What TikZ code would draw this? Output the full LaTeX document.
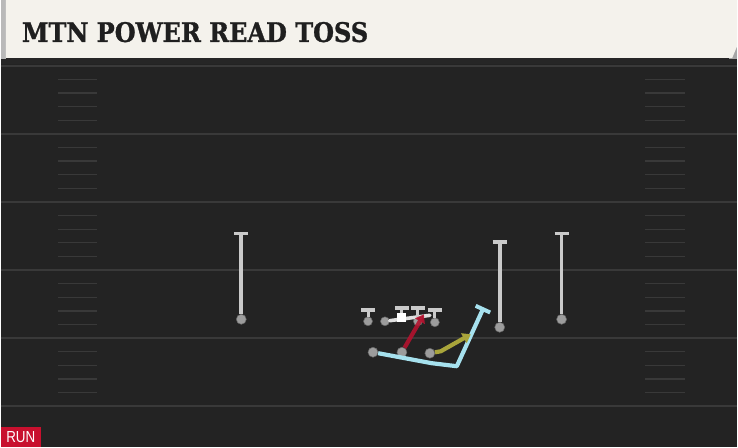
\documentclass[tikz,border=0pt]{standalone}
\usepackage{fontspec}
\usetikzlibrary{arrows.meta}
\newfontfamily\titlefont[FakeBold=1.2]{DejaVu Serif}
\newfontfamily\tagfont{Liberation Sans}
\definecolor{turf}{HTML}{232323}
\definecolor{chalk}{HTML}{393939}
\definecolor{paper}{HTML}{F4F2EC}
\definecolor{pgray}{HTML}{CACACA}
\definecolor{dgray}{HTML}{9C9C9C}
\definecolor{runred}{HTML}{B3132F}
\definecolor{ylw}{HTML}{A9A53B}
\definecolor{sky}{HTML}{A6E1EE}
\definecolor{tagred}{HTML}{C8102E}
\begin{document}
\begin{tikzpicture}[x=1pt,y=-1pt,
    yard/.style={draw=chalk,line width=1.6pt},
    hash/.style={draw=chalk,line width=1.3pt},
    player/.style={circle,fill=dgray,draw=black!60,line width=0.5pt,inner sep=0pt,minimum size=10pt},
    lineman/.style={player,minimum size=9pt},
    block/.style={pgray,line width=3.6pt,-{Bar[width=14pt,line width=4pt]}},
    pull/.style={white!88!black,line width=3.6pt,line cap=round},
    route/.style={line width=4.2pt,line join=round,-{Triangle[length=8pt,width=11pt]}}]
  \fill[turf] (0,0) rectangle (738,448);
  \foreach \k in {0,...,5}
    \draw[yard] (0,66+68.2*\k) -- (738,66+68.2*\k);
  \foreach \k in {0,...,4}
    \foreach \j in {1,...,4} {
      \draw[hash] (57,66+68.2*\k+13.64*\j) -- (96,66+68.2*\k+13.64*\j);
      \draw[hash] (646,66+68.2*\k+13.64*\j) -- (686,66+68.2*\k+13.64*\j);
    }
  \fill[black!85] (0,58) rectangle (738,64);
  \fill[gray!55] (0,0) rectangle (5,59);
  \fill[gray!70] (730,40) -- (738,40) -- (738,59) -- (730,59) -- cycle;
  \fill[paper] (5,0) -- (738,0) -- (738,46) -- (733,58) -- (5,58) -- cycle;
  \node[anchor=base west,inner sep=0pt,text=black!88] (title) at (21,42)
    {\resizebox{347pt}{20pt}{\titlefont\bfseries MTN POWER READ TOSS}};
  \node[fill=tagred,text=white,inner sep=0pt,minimum width=40pt,minimum height=20pt] (tag) at (20,438)
    {\resizebox{29pt}{11pt}{\tagfont RUN}};

  \node[player] (wl) at (241,320) {};
  \node[player] (wr) at (500,328) {};
  \node[player] (wo) at (562,320) {};
  \coordinate (wlt) at (241,232);
  \coordinate (wrt) at (500,241);
  \coordinate (wot) at (562,232);
  \draw[block] (wl) -- (wlt);
  \draw[block] (wr) -- (wrt);
  \draw[block] (wo) -- (wot);

  \node[lineman] (lt) at (368,322) {};
  \node[lineman] (lg) at (385,322) {};
  \node[lineman] (rg) at (418,322) {};
  \node[lineman] (rt) at (435,323) {};
  \coordinate (ltt) at (368,309);
  \coordinate (lge) at (430,316);
  \coordinate (ct) at (402,307);
  \coordinate (rgt) at (418,307);
  \coordinate (rtt) at (435,309);
  \draw[block,line width=3pt] (lt) -- (ltt);
  \draw[pull] (lg) -- (lge);
  \node[fill=white,inner sep=0pt,minimum size=9pt] (ctr) at (402,318) {};
  \draw[block,line width=3pt] (ctr) -- (ct);
  \draw[block,line width=3pt] (rg) -- (rgt);
  \draw[block,line width=3pt] (rt) -- (rtt);

  \node[player] (qb) at (373,353) {};
  \node[player] (rb) at (402,353) {};
  \node[player] (fb) at (430,354) {};
  \coordinate (q1) at (432,364);
  \coordinate (q2) at (457,367);
  \coordinate (q3) at (484,308);
  \coordinate (rbt) at (424,315);
  \coordinate (f1) at (441,352);
  \coordinate (f2) at (471,335);
  \draw[sky,line width=4.2pt,line join=round,-{Bar[width=16pt,line width=4pt]}] (qb) -- (q1) -- (q2) -- (q3);
  \draw[route,runred,opacity=0.9] (rb) -- (rbt);
  \draw[route,ylw] (fb) -- (f1) -- (f2);
\end{tikzpicture}
\end{document}
